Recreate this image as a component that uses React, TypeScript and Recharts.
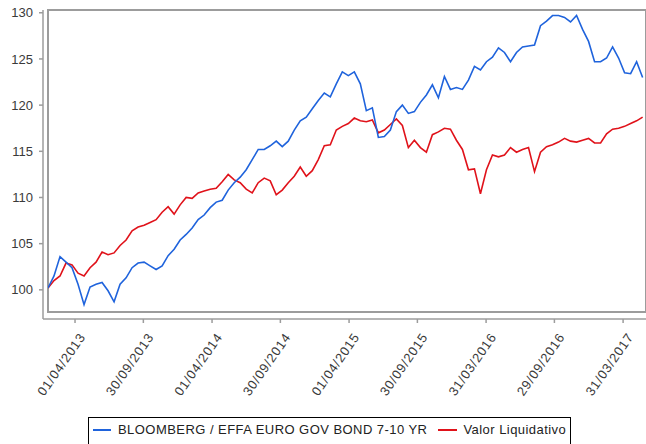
import { LineChart, Line, XAxis, YAxis, ReferenceArea, Legend } from 'recharts';

// ~16 day sampling
const DAY = 86400000;
const START = Date.UTC(2013, 0, 19);
const STEP_DAYS = 16;
const X_MAX = START + 1593 * DAY;

const bloombergValues = [
  100.2, 101.5, 103.6, 103.0, 102.4, 100.6, 98.4, 100.3, 100.6, 100.8,
  99.9, 98.7, 100.6, 101.3, 102.4, 102.9, 103.0, 102.6, 102.2, 102.6,
  103.7, 104.4, 105.4, 106.0, 106.7, 107.6, 108.1, 108.9, 109.5, 109.7,
  110.8, 111.6, 112.2, 113.0, 114.1, 115.2, 115.2, 115.6, 116.1, 115.5,
  116.1, 117.3, 118.3, 118.7, 119.6, 120.5, 121.3, 120.9, 122.3, 123.6,
  123.2, 123.6, 122.3, 119.4, 119.7, 116.5, 116.6, 117.3, 119.3, 120.0,
  119.1, 119.3, 120.3, 121.1, 122.2, 120.8, 123.1, 121.7, 121.9, 121.7,
  122.7, 124.2, 123.8, 124.7, 125.2, 126.2, 125.7, 124.7, 125.7, 126.3,
  126.4, 126.5, 128.6, 129.1, 129.7, 129.7, 129.5, 129.0, 129.7, 128.2,
  126.9, 124.7, 124.7, 125.1, 126.3, 125.1, 123.5, 123.4, 124.7, 123.0,
];

const valorValues = [
  100.2, 101.0, 101.5, 102.9, 102.7, 101.8, 101.5, 102.4, 103.0, 104.1,
  103.8, 104.0, 104.8, 105.4, 106.4, 106.8, 107.0, 107.3, 107.6, 108.4,
  109.0, 108.2, 109.2, 110.0, 109.9, 110.5, 110.7, 110.9, 111.0, 111.7,
  112.5, 111.9, 111.6, 110.9, 110.5, 111.6, 112.1, 111.8, 110.3, 110.8,
  111.6, 112.3, 113.3, 112.3, 112.9, 114.1, 115.6, 115.7, 117.3, 117.7,
  118.0, 118.6, 118.3, 118.2, 118.4, 117.0, 117.3, 117.9, 118.5, 117.8,
  115.4, 116.2, 115.4, 114.9, 116.8, 117.1, 117.5, 117.4, 116.2, 115.2,
  113.0, 113.1, 110.4, 113.0, 114.6, 114.4, 114.6, 115.4, 114.9, 115.2,
  115.4, 112.8, 114.9, 115.5, 115.7, 116.0, 116.4, 116.1, 116.0, 116.2,
  116.4, 115.9, 115.9, 116.9, 117.4, 117.5, 117.7, 118.0, 118.3, 118.7,
];

const xTicks = [
  Date.UTC(2013, 3, 1), Date.UTC(2013, 8, 30), Date.UTC(2014, 3, 1),
  Date.UTC(2014, 8, 30), Date.UTC(2015, 3, 1), Date.UTC(2015, 8, 30),
  Date.UTC(2016, 2, 31), Date.UTC(2016, 8, 29), Date.UTC(2017, 2, 31),
];
const yTicks = [100, 105, 110, 115, 120, 125, 130];
const Y_MIN = 97.6;
const Y_MAX = 130.3;

const seriesNames = ['BLOOMBERG / EFFA EURO GOV BOND 7-10 YR', 'Valor Liquidativo'];
const BLUE = '#1f63dc';
const RED = '#e0121a';
const FONT = '"Liberation Sans", Arial, sans-serif';

const data = bloombergValues.map((v, i) => ({
  t: START + i * STEP_DAYS * DAY,
  bloomberg: v,
  valor: valorValues[i],
}));

const pad = (n: number) => (n < 10 ? '0' + n : '' + n);
const formatDate = (ms: number) => {
  const d = new Date(ms);
  return `${pad(d.getUTCDate())}/${pad(d.getUTCMonth() + 1)}/${d.getUTCFullYear()}`;
};

// rotated date labels under the axis
const DateTick = (props: any) => {
  const { x, y, payload } = props;
  const ax = x + 11;
  const ay = y + 12;
  return (
    <text
      x={ax}
      y={ay}
      transform={`rotate(-55 ${ax} ${ay})`}
      textAnchor="end"
      fontSize={13}
      letterSpacing={0.8}
      fontFamily={FONT}
      fill="#3a3a3a"
    >
      {formatDate(payload.value)}
    </text>
  );
};

const renderLegend = () => (
  <div
    style={{
      display: 'flex',
      alignItems: 'center',
      border: '1px solid #000',
      padding: '5px 4px 8px 4px',
      background: '#fff',
      fontFamily: FONT,
      fontSize: 13,
      letterSpacing: 0.45,
      color: '#222',
      whiteSpace: 'nowrap',
      lineHeight: '14px',
    }}
  >
    <span style={{ display: 'inline-block', width: 18, height: 2, background: BLUE, marginRight: 7 }} />
    <span style={{ marginRight: 11 }}>{seriesNames[0]}</span>
    <span style={{ display: 'inline-block', width: 19, height: 2, background: RED, marginRight: 6 }} />
    <span>{seriesNames[1]}</span>
  </div>
);

export default function App() {
  return (
    <div style={{ position: 'absolute', left: 0, top: 0, width: 646, height: 444, background: '#fff', overflow: 'hidden' }}>
      <LineChart width={646} height={444} data={data} margin={{ top: 10, right: 0, left: 0, bottom: 35 }}>
        <ReferenceArea
          x1={START}
          x2={X_MAX}
          y1={Y_MIN}
          y2={Y_MAX}
          fill="none"
          stroke="#9c9c9c"
          strokeWidth={2}
        />
        <XAxis
          type="number"
          dataKey="t"
          domain={[START, X_MAX]}
          ticks={xTicks}
          allowDataOverflow
          padding={{ left: 5, right: 0 }}
          height={90}
          tickSize={4}
          tickMargin={2}
          stroke="#9c9c9c"
          strokeWidth={1.5}
          tick={<DateTick />}
          interval={0}
        />
        <YAxis
          type="number"
          domain={[Y_MIN, Y_MAX]}
          ticks={yTicks}
          allowDataOverflow
          padding={{ top: 0, bottom: 7 }}
          width={43}
          tickSize={4}
          tickMargin={6}
          stroke="#9c9c9c"
          strokeWidth={1.5}
          tick={{ fontSize: 13, fill: '#3a3a3a', fontFamily: FONT }}
          interval={0}
        />
        <Line
          type="linear"
          dataKey="valor"
          name={seriesNames[1]}
          stroke={RED}
          strokeWidth={1.6}
          dot={false}
          isAnimationActive={false}
        />
        <Line
          type="linear"
          dataKey="bloomberg"
          name={seriesNames[0]}
          stroke={BLUE}
          strokeWidth={1.6}
          dot={false}
          isAnimationActive={false}
        />
        <Legend
          layout="horizontal"
          verticalAlign="middle"
          align="center"
          content={renderLegend}
          wrapperStyle={{ left: 88, top: 417, width: 'auto' }}
        />
      </LineChart>
    </div>
  );
}
